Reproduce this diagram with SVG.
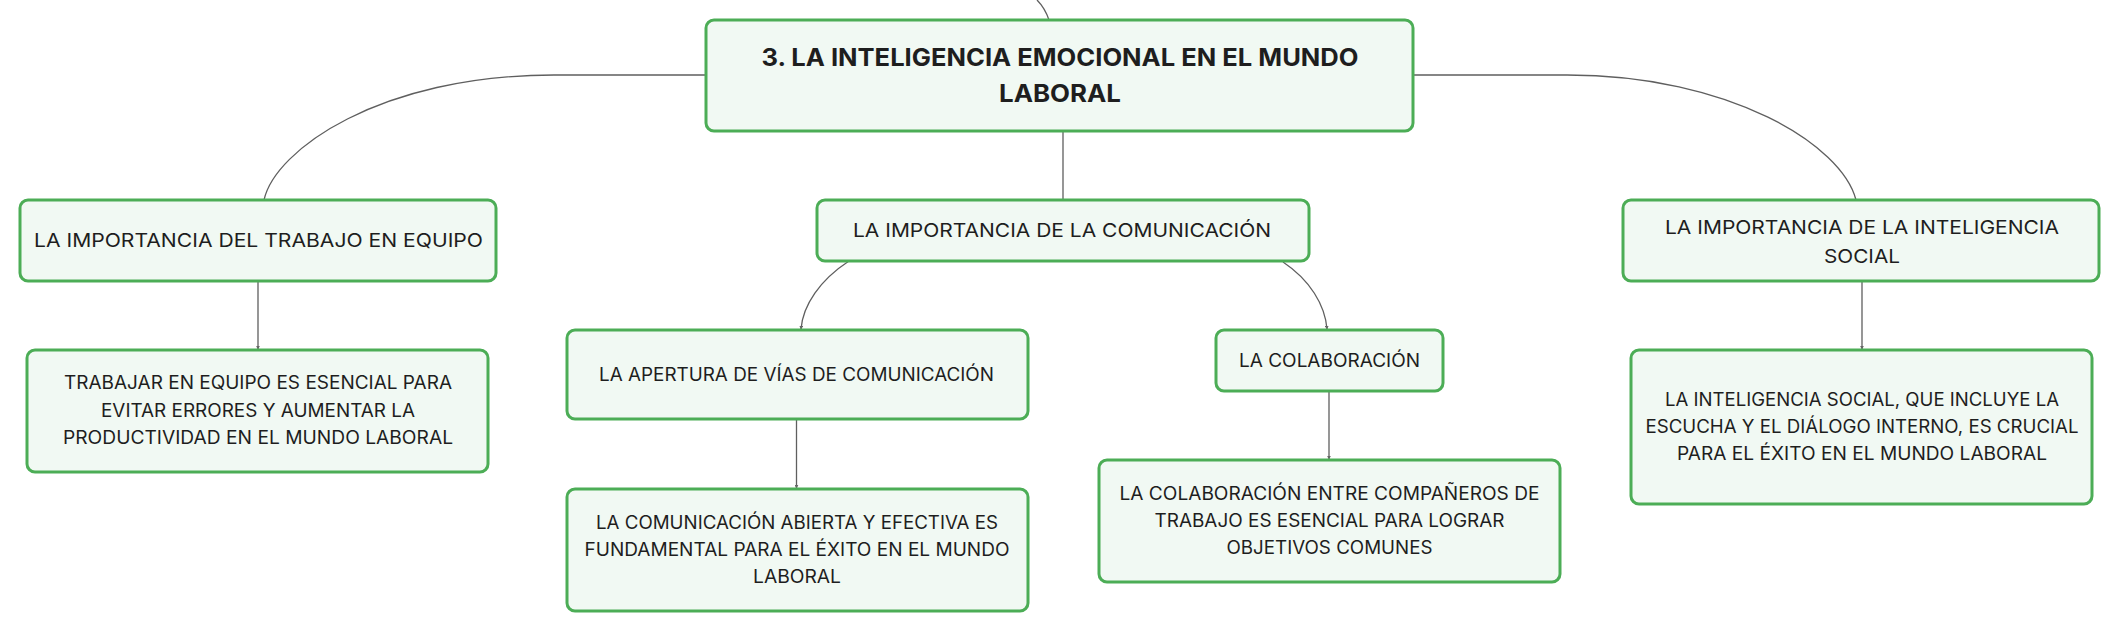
<svg xmlns="http://www.w3.org/2000/svg" width="2120" height="631" viewBox="0 0 2120 631">
<defs>
<marker id="arr" viewBox="0 0 6 6" refX="5" refY="3" markerWidth="4" markerHeight="4" orient="auto" markerUnits="userSpaceOnUse">
<path d="M0,0 L6,3 L0,6 z" fill="#666"/>
</marker>
</defs>
<style>
.box{fill:#f1f9f3;stroke:#4cad56;stroke-width:3}
.edge{fill:none;stroke:#5f5f5f;stroke-width:1.3}
.t{font-family:Inter,"Open Sans","Liberation Sans",sans-serif;fill:#1e1e1e;text-anchor:middle}
.root{font-size:24px;font-weight:700}
.l2{font-size:19px}
.l3{font-size:18px}
</style>
<rect width="2120" height="631" fill="#ffffff"/>
<g id="connectors">
<path class="edge" d="M1049,20 Q1045,8 1037,0"/>
<path class="edge" d="M706,75 L554,75 C380,75 275,150 264,200"/>
<path class="edge" d="M1413,75 L1567,75 C1730,75 1842,145 1856,200"/>
<path class="edge" d="M1063,131 L1063,200"/>
<path class="edge" marker-end="url(#arr)" d="M258,281 L258,349"/>
<path class="edge" marker-end="url(#arr)" d="M849,261 C820,280 803,305 801,329"/>
<path class="edge" marker-end="url(#arr)" d="M1283,262 C1310,280 1325,305 1327,329"/>
<path class="edge" marker-end="url(#arr)" d="M796.5,419 L796.5,488"/>
<path class="edge" marker-end="url(#arr)" d="M1329,391 L1329,459"/>
<path class="edge" marker-end="url(#arr)" d="M1862,281 L1862,349"/>
</g>
<g id="root">
<rect class="box" x="706" y="20" width="707" height="111" rx="8"/>
<text class="t root" x="1060" y="66" textLength="597" lengthAdjust="spacingAndGlyphs">3. LA INTELIGENCIA EMOCIONAL EN EL MUNDO</text>
<text class="t root" x="1060" y="102" textLength="122" lengthAdjust="spacingAndGlyphs">LABORAL</text>
</g>
<g id="node-equipo">
<rect class="box" x="20" y="200" width="476" height="81" rx="8"/>
<text class="t l2" x="258.5" y="247" textLength="449" lengthAdjust="spacingAndGlyphs">LA IMPORTANCIA DEL TRABAJO EN EQUIPO</text>
</g>
<g id="node-equipo-detalle">
<rect class="box" x="27" y="350" width="461" height="122" rx="8"/>
<text class="t l3" x="258" y="389" textLength="388" lengthAdjust="spacingAndGlyphs">TRABAJAR EN EQUIPO ES ESENCIAL PARA</text>
<text class="t l3" x="258" y="416.5" textLength="314" lengthAdjust="spacingAndGlyphs">EVITAR ERRORES Y AUMENTAR LA</text>
<text class="t l3" x="258" y="443.5" textLength="390" lengthAdjust="spacingAndGlyphs">PRODUCTIVIDAD EN EL MUNDO LABORAL</text>
</g>
<g id="node-comunicacion">
<rect class="box" x="817" y="200" width="492" height="61" rx="8"/>
<text class="t l2" x="1062" y="237" textLength="418" lengthAdjust="spacingAndGlyphs">LA IMPORTANCIA DE LA COMUNICACIÓN</text>
</g>
<g id="node-apertura">
<rect class="box" x="567" y="330" width="461" height="89" rx="8"/>
<text class="t l3" x="796.5" y="381" textLength="395" lengthAdjust="spacingAndGlyphs">LA APERTURA DE VÍAS DE COMUNICACIÓN</text>
</g>
<g id="node-apertura-detalle">
<rect class="box" x="567" y="489" width="461" height="122" rx="8"/>
<text class="t l3" x="797" y="528.5" textLength="402" lengthAdjust="spacingAndGlyphs">LA COMUNICACIÓN ABIERTA Y EFECTIVA ES</text>
<text class="t l3" x="797" y="555.5" textLength="425" lengthAdjust="spacingAndGlyphs">FUNDAMENTAL PARA EL ÉXITO EN EL MUNDO</text>
<text class="t l3" x="797" y="582.5" textLength="88" lengthAdjust="spacingAndGlyphs">LABORAL</text>
</g>
<g id="node-colaboracion">
<rect class="box" x="1216" y="330" width="227" height="61" rx="8"/>
<text class="t l3" x="1329.5" y="367" textLength="181" lengthAdjust="spacingAndGlyphs">LA COLABORACIÓN</text>
</g>
<g id="node-colaboracion-detalle">
<rect class="box" x="1099" y="460" width="461" height="122" rx="8"/>
<text class="t l3" x="1329.5" y="499.5" textLength="420" lengthAdjust="spacingAndGlyphs">LA COLABORACIÓN ENTRE COMPAÑEROS DE</text>
<text class="t l3" x="1329.5" y="526.5" textLength="350" lengthAdjust="spacingAndGlyphs">TRABAJO ES ESENCIAL PARA LOGRAR</text>
<text class="t l3" x="1329.5" y="553.5" textLength="206" lengthAdjust="spacingAndGlyphs">OBJETIVOS COMUNES</text>
</g>
<g id="node-social">
<rect class="box" x="1623" y="200" width="476" height="81" rx="8"/>
<text class="t l2" x="1862" y="233.5" textLength="394" lengthAdjust="spacingAndGlyphs">LA IMPORTANCIA DE LA INTELIGENCIA</text>
<text class="t l2" x="1862" y="262.5" textLength="76" lengthAdjust="spacingAndGlyphs">SOCIAL</text>
</g>
<g id="node-social-detalle">
<rect class="box" x="1631" y="350" width="461" height="154" rx="8"/>
<text class="t l3" x="1862" y="406" textLength="394" lengthAdjust="spacingAndGlyphs">LA INTELIGENCIA SOCIAL, QUE INCLUYE LA</text>
<text class="t l3" x="1862" y="432.5" textLength="433" lengthAdjust="spacingAndGlyphs">ESCUCHA Y EL DIÁLOGO INTERNO, ES CRUCIAL</text>
<text class="t l3" x="1862" y="459.5" textLength="370" lengthAdjust="spacingAndGlyphs">PARA EL ÉXITO EN EL MUNDO LABORAL</text>
</g>
</svg>
